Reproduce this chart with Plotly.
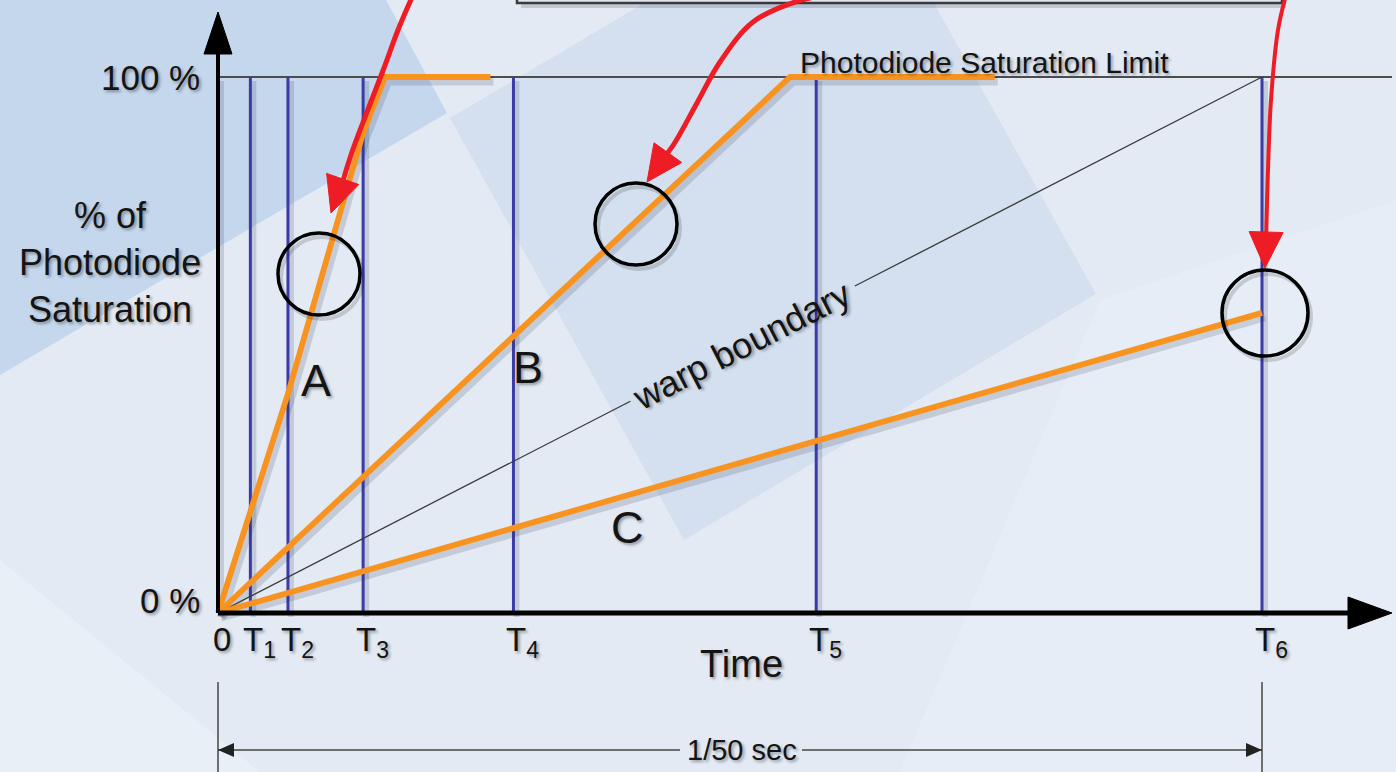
import math
import plotly.graph_objects as go

# ---------------- data ----------------
tick_labels = ["0", "T<sub>1</sub>", "T<sub>2</sub>", "T<sub>3</sub>",
               "T<sub>4</sub>", "T<sub>5</sub>", "T<sub>6</sub>"]
tick_times = [0, 3.1, 6.7, 13.9, 28.3, 57.3, 100]      # % of the 1/50 s frame

a_time = [0, 3.1, 6.7, 13.9, 16.0, 26.1]
a_level = [0, 18.8, 40.9, 89.6, 100, 100]
b_time = [0, 54.8, 74.4]
b_level = [0, 100, 100]
c_time = [0, 100]
c_level = [0, 56]
warp_time = [0, 100]
warp_level = [0, 100]
saturation_level = 100

# ---------------- geometry helpers (pixel layout of the picture) ----------------
W, H = 1396, 772
X0_PX, XEND_PX = 218, 1262
Y0_PX, Y100_PX = 613, 77
sx = (XEND_PX - X0_PX) / 100.0
sy = (Y0_PX - Y100_PX) / 100.0


def dx(px):
    return (px - X0_PX) / sx


def dy(py):
    return (Y0_PX - py) / sy


def path(pts, close=True):
    s = "M " + " L ".join(f"{dx(x):.4f},{dy(y):.4f}" for x, y in pts)
    return s + (" Z" if close else "")


BG = "#e3eaf4"
ORANGE = "#f7931e"
BLUE = "#3b3ba8"
RED = "#ee1c24"
TXT = "#141414"
FONT = "Arial, Liberation Sans, sans-serif"
TSHADOW = "2px 2px 3px rgba(0,0,0,0.35)"
LSHADOW = "rgba(30,45,80,0.16)"

fig = go.Figure()
shapes = []

# ---------------- background panels ----------------
bg_polys = [
    ([(0, 0), (386, 0), (447, 113), (0, 375)], "#c5d7ec"),
    ([(450, 118), (862, -126), (1096, 294), (684, 540)], "#d4e0ef"),
    ([(0, 560), (0, H), (260, H)], "#e9eff7"),
    ([(1100, 300), (W, 200), (W, H), (900, H)], "#e6edf6"),
]
for pts, col in bg_polys:
    shapes.append(dict(type="path", path=path(pts), fillcolor=col,
                       line=dict(width=0), layer="below", xref="x", yref="y"))

# top box edge (bottom of a callout box)
shapes.append(dict(type="rect", x0=dx(521), x1=dx(1286), y0=dy(8), y1=dy(-40),
                   fillcolor="rgba(40,50,70,0.18)", line=dict(width=0),
                   layer="below", xref="x", yref="y"))
shapes.append(dict(type="rect", x0=dx(517), x1=dx(1282), y0=dy(3), y1=dy(-40),
                   fillcolor="#dfe6f1", line=dict(color="#3a3a3a", width=2.5),
                   layer="below", xref="x", yref="y"))


def add_line(xs, ys, color, width, shadow=True, shadow_w=None):
    if shadow:
        fig.add_trace(go.Scatter(
            x=[None if v is None else v + 3 / sx for v in xs],
            y=[None if v is None else v - 4 / sy for v in ys],
            mode="lines", line=dict(color=LSHADOW, width=shadow_w or width + 3),
            hoverinfo="skip", showlegend=False))
    fig.add_trace(go.Scatter(x=xs, y=ys, mode="lines",
                             line=dict(color=color, width=width),
                             hoverinfo="skip", showlegend=False))


# saturation limit line
add_line([0, dx(1392)], [saturation_level, saturation_level], "#4d4d4d", 2, shadow=False)

# vertical time lines
vx, vy = [], []
for t in tick_times:
    vx += [t, t, None]
    vy += [0, saturation_level, None]
add_line(vx, vy, BLUE, 3)

# warp boundary, with a gap where the label sits
g0, g1 = 0.395, 0.61
wx = [warp_time[0], warp_time[0] + g0 * (warp_time[1] - warp_time[0]), None,
      warp_time[0] + g1 * (warp_time[1] - warp_time[0]), warp_time[1]]
wy = [warp_level[0], warp_level[0] + g0 * (warp_level[1] - warp_level[0]), None,
      warp_level[0] + g1 * (warp_level[1] - warp_level[0]), warp_level[1]]
add_line(wx, wy, "#3a3a3a", 1.3, shadow=False)

# photodiode curves
add_line(a_time, a_level, ORANGE, 5.8)
add_line(b_time, b_level, ORANGE, 5.8)
add_line(c_time, c_level, ORANGE, 5.8)

# axes with arrowheads
fig.add_trace(go.Scatter(x=[0, dx(1355)], y=[0, 0], mode="lines",
                         line=dict(color="black", width=5),
                         hoverinfo="skip", showlegend=False))
fig.add_trace(go.Scatter(x=[0, 0], y=[0, dy(45)], mode="lines",
                         line=dict(color="black", width=4),
                         hoverinfo="skip", showlegend=False))
for tri in ([(1392, 613), (1348, 597), (1348, 629)],
            [(218, 12), (204, 54), (232, 54)]):
    fig.add_trace(go.Scatter(x=[dx(p[0]) for p in tri] + [dx(tri[0][0])],
                             y=[dy(p[1]) for p in tri] + [dy(tri[0][1])],
                             mode="lines", fill="toself", fillcolor="black",
                             line=dict(color="black", width=1),
                             hoverinfo="skip", showlegend=False))

# red curved arrows
red_arrows = [
    ([(413, -5), (398, 30), (384, 68), (367, 112), (352, 152), (342, 184)],
     (331, 213), 5),
    ([(835, -6), (798, 1), (753, 22), (720, 62), (697, 103), (674, 144), (662, 160)],
     (647, 182), 5),
    ([(1286, -5), (1278, 30), (1271, 100), (1268, 170), (1266, 244)],
     (1265, 268), 4),
]
for pts, tip, w in red_arrows:
    fig.add_trace(go.Scatter(x=[dx(p[0]) for p in pts], y=[dy(p[1]) for p in pts],
                             mode="lines", line=dict(color=RED, width=w, shape="spline"),
                             hoverinfo="skip", showlegend=False))
    lx, ly = pts[-2]
    ux, uy = tip[0] - lx, tip[1] - ly
    n = (ux ** 2 + uy ** 2) ** 0.5
    ux, uy = ux / n, uy / n
    L, hw = 36, 17
    bx, by = tip[0] - L * ux, tip[1] - L * uy
    tri = [tip, (bx - hw * uy, by + hw * ux), (bx + hw * uy, by - hw * ux), tip]
    fig.add_trace(go.Scatter(x=[dx(p[0]) for p in tri], y=[dy(p[1]) for p in tri],
                             mode="lines", fill="toself", fillcolor=RED,
                             line=dict(color=RED, width=1),
                             hoverinfo="skip", showlegend=False))

# circles marking the read-out points
circles = [(319, 274, 41), (636, 224, 41), (1265, 313, 43)]
for cx, cy, r in circles:
    shapes.append(dict(type="circle", xref="x", yref="y",
                       x0=dx(cx - r + 3), x1=dx(cx + r + 3), y0=dy(cy + r + 4), y1=dy(cy - r + 4),
                       line=dict(color="rgba(0,0,0,0.15)", width=4), layer="above"))
    shapes.append(dict(type="circle", xref="x", yref="y",
                       x0=dx(cx - r), x1=dx(cx + r), y0=dy(cy + r), y1=dy(cy - r),
                       line=dict(color="black", width=3.5), layer="above"))

# dimension line "1/50 sec"
DIM = "#444444"
for t in (tick_times[0], tick_times[-1]):
    shapes.append(dict(type="line", xref="x", yref="y", x0=t, x1=t,
                       y0=dy(682), y1=dy(772), line=dict(color=DIM, width=1.5)))
shapes.append(dict(type="line", xref="x", yref="y", x0=tick_times[0], x1=dx(680),
                   y0=dy(750), y1=dy(750), line=dict(color=DIM, width=1.5)))
shapes.append(dict(type="line", xref="x", yref="y", x0=dx(802), x1=tick_times[-1],
                   y0=dy(750), y1=dy(750), line=dict(color=DIM, width=1.5)))
for tri in ([(218, 750), (234, 743), (234, 757)],
            [(1262, 750), (1246, 743), (1246, 757)]):
    shapes.append(dict(type="path", xref="x", yref="y", path=path(tri),
                       fillcolor="#222", line=dict(width=0)))

# ---------------- text ----------------
ann = []


def text(x, y, s, size, xanchor="center", yanchor="middle", angle=0, **kw):
    ann.append(dict(x=x, y=y, xref="x", yref="y", text=s, showarrow=False,
                    xanchor=xanchor, yanchor=yanchor, textangle=angle,
                    font=dict(family=FONT, size=size, color=TXT, shadow=TSHADOW), **kw))


text(dx(202), saturation_level, "100 %", 35, xanchor="right")
text(dx(202), dy(600), "0 %", 35, xanchor="right")
text(dx(110), dy(262), "% of<br>Photodiode<br>Saturation", 36)
text(dx(798), dy(62), "Photodiode Saturation Limit", 30, xanchor="left")
text(dx(741), dy(664), "Time", 38)
text(dx(316), dy(380), "A", 45)
text(dx(528), dy(367), "B", 45)
text(dx(627), dy(527), "C", 45)
text(dx(742), dy(750), "1/50 sec", 29)
ang = math.degrees(math.atan((warp_level[1] - warp_level[0]) * sy /
                             ((warp_time[1] - warp_time[0]) * sx)))
mid = 0.5 * (g0 + g1)
text(warp_time[0] + mid * (warp_time[1] - warp_time[0]),
     warp_level[0] + mid * (warp_level[1] - warp_level[0]),
     "warp boundary", 36, angle=-ang, yshift=-2, xshift=-1)

for t, lab in zip(tick_times, tick_labels):
    if lab == "0":
        text(t, dy(619), lab, 33, yanchor="top", xshift=4)
    else:
        text(t, dy(619), lab, 33, xanchor="left", yanchor="top", xshift=-9)

fig.update_layout(
    width=W, height=H, margin=dict(l=0, r=0, t=0, b=0),
    paper_bgcolor=BG, plot_bgcolor=BG,
    xaxis=dict(range=[dx(0), dx(W)], visible=False, fixedrange=True),
    yaxis=dict(range=[dy(H), dy(0)], visible=False, fixedrange=True),
    shapes=shapes, annotations=ann, showlegend=False,
)

fig.write_html("out.html", config={"displayModeBar": False},
               post_script="document.body.style.margin='0';document.body.style.overflow='hidden';")
